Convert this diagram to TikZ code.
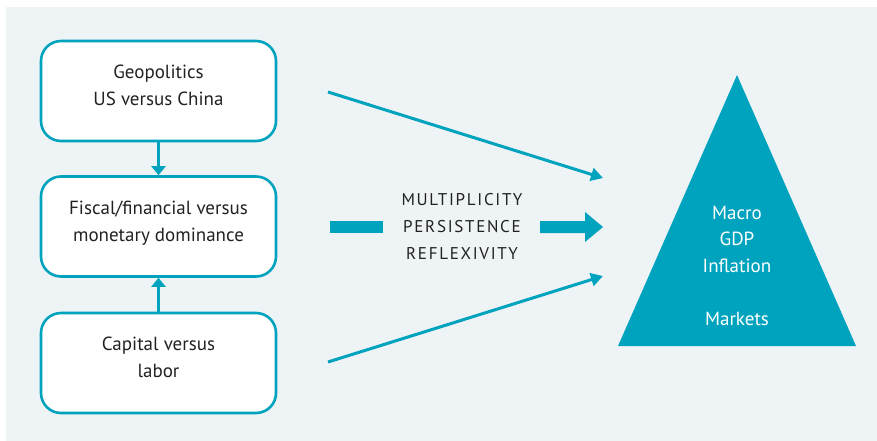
\documentclass[tikz,border=0pt]{standalone}
\usepackage{fontspec}
\setmainfont{PT Sans}
\usetikzlibrary{arrows.meta,shapes.geometric}
\definecolor{teal}{HTML}{00A3BE}
\definecolor{panel}{HTML}{EEF3F6}
\definecolor{txt}{HTML}{222222}
\begin{document}
\begin{tikzpicture}[x=1pt,y=-1pt,
  factor/.style={draw=teal,line width=2.6pt,rounded corners=20pt,fill=white,
    minimum width=235pt,minimum height=100pt,align=center,text=txt,
    font=\fontsize{19}{27}\selectfont,inner sep=0pt,text depth=11pt},
  thin arrow/.style={teal,line width=3pt,-{Triangle[length=12pt,width=13pt]}},
  label/.style={align=center,text=txt,font=\fontsize{17}{27}\selectfont\addfontfeatures{LetterSpace=10}},
  tri label/.style={align=center,text=white,font=\fontsize{19}{26.5}\selectfont}]
\useasboundingbox (0,0) rectangle (877,441);
\fill[white] (0,0) rectangle (877,441);
\fill[panel] (6,7) rectangle (877,441);

\node[factor] (geo) at (158.5,91) {Geopolitics\\US versus China};
\node[factor] (fis) at (158.5,226.5) {Fiscal/financial versus\\monetary dominance};
\node[factor] (cap) at (158.5,363) {Capital versus\\labor};

\draw[teal,line width=2.5pt,-{Triangle[length=9pt,width=14pt]}] (geo.south) -- (fis.north);
\draw[teal,line width=2.5pt,-{Triangle[length=9pt,width=14pt]}] (cap.north) -- (fis.south);

\node[label] (mid) at (462,227) {MULTIPLICITY\\PERSISTENCE\\REFLEXIVITY};

\coordinate (t1s) at (328,92);
\coordinate (t1e) at (603,178);
\coordinate (t3s) at (328,362);
\coordinate (t3e) at (603,276);
\draw[thin arrow] (t1s) -- (t1e);
\draw[thin arrow] (t3s) -- (t3e);

\fill[teal] (330,221) rectangle (383,233);
\fill[teal] (540,221) -- (585,221) -- (585,212) -- (603,227) -- (585,242) -- (585,233) -- (540,233) -- cycle;

\fill[teal] (737,75) -- (856,346) -- (618,346) -- cycle;
\node[tri label] (macro) at (737,239) {Macro\\GDP\\Inflation};
\node[tri label] (mkts) at (737,319) {Markets};
\end{tikzpicture}
\end{document}
